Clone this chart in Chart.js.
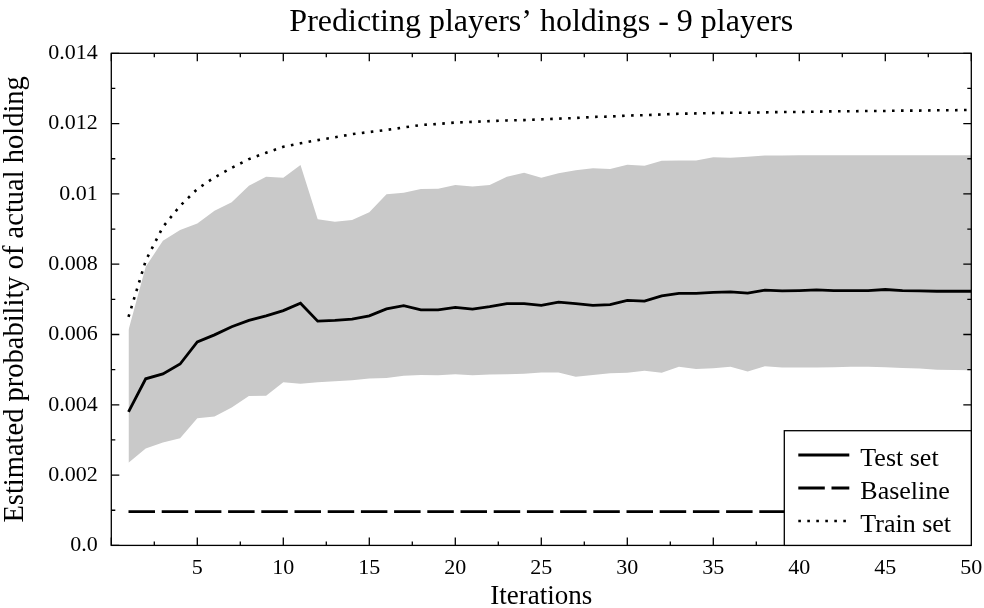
<!DOCTYPE html>
<html>
<head>
<meta charset="utf-8">
<script src="https://cdn.jsdelivr.net/npm/chart.js@4.4.1/dist/chart.umd.min.js"></script>
<style>
  html, body { margin: 0; padding: 0; background: #ffffff; }
  canvas { display: block; }
</style>
</head>
<body>
<canvas id="chart" width="984" height="608"></canvas>
<script>
// Iteration numbers (x categories)
const iterations = [
  1, 2, 3, 4, 5, 6, 7, 8, 9, 10,
  11, 12, 13, 14, 15, 16, 17, 18, 19, 20,
  21, 22, 23, 24, 25, 26, 27, 28, 29, 30,
  31, 32, 33, 34, 35, 36, 37, 38, 39, 40,
  41, 42, 43, 44, 45, 46, 47, 48, 49, 50
];

// Mean estimated probability of the actual holding on the test set
const testSet = [
  0.00380, 0.00474, 0.00488, 0.00516, 0.00579, 0.00599, 0.00622, 0.00640, 0.00653, 0.00668,
  0.00689, 0.00638, 0.00640, 0.00644, 0.00653, 0.00673, 0.00682, 0.00670, 0.00670, 0.00677,
  0.00672, 0.00679, 0.00688, 0.00688, 0.00683, 0.00692, 0.00688, 0.00683, 0.00685, 0.00697,
  0.00695, 0.00710, 0.00717, 0.00717, 0.00720, 0.00721, 0.00718, 0.00726, 0.00724, 0.00725,
  0.00727, 0.00725, 0.00725, 0.00725, 0.00728, 0.00725, 0.00724, 0.00723, 0.00723, 0.00723
];

// Upper edge of the test-set spread band
const upperBand = [
  0.00613, 0.00793, 0.00867, 0.00897, 0.00916, 0.00952, 0.00976, 0.01023, 0.01049, 0.01046,
  0.01082, 0.00928, 0.00921, 0.00926, 0.00948, 0.00999, 0.01003, 0.01014, 0.01015, 0.01025,
  0.01021, 0.01025, 0.01049, 0.01060, 0.01046, 0.01059, 0.01067, 0.01073, 0.01071, 0.01083,
  0.01080, 0.01094, 0.01095, 0.01095, 0.01104, 0.01103, 0.01106, 0.01109, 0.01109, 0.01110,
  0.01110, 0.01110, 0.01110, 0.01110, 0.01110, 0.01110, 0.01110, 0.01110, 0.01110, 0.01110
];

// Lower edge of the test-set spread band
const lowerBand = [
  0.00235, 0.00276, 0.00293, 0.00305, 0.00362, 0.00367, 0.00392, 0.00425, 0.00426, 0.00464,
  0.00460, 0.00464, 0.00467, 0.00470, 0.00475, 0.00476, 0.00483, 0.00485, 0.00484, 0.00487,
  0.00484, 0.00486, 0.00487, 0.00488, 0.00492, 0.00492, 0.00480, 0.00485, 0.00490, 0.00491,
  0.00497, 0.00491, 0.00508, 0.00502, 0.00504, 0.00508, 0.00495, 0.00510, 0.00506, 0.00506,
  0.00506, 0.00507, 0.00508, 0.00508, 0.00507, 0.00505, 0.00503, 0.00500, 0.00499, 0.00498
];

// Estimated probability on the training set
const trainSet = [
  0.00650, 0.00810, 0.00906, 0.00966, 0.01014, 0.01047, 0.01074, 0.01099, 0.01117, 0.01134,
  0.01144, 0.01153, 0.01161, 0.01170, 0.01176, 0.01182, 0.01189, 0.01196, 0.01199, 0.01203,
  0.01205, 0.01207, 0.01209, 0.01210, 0.01212, 0.01214, 0.01216, 0.01219, 0.01220, 0.01223,
  0.01224, 0.01226, 0.01228, 0.01229, 0.01230, 0.01231, 0.01231, 0.01232, 0.01233, 0.01233,
  0.01234, 0.01235, 0.01235, 0.01236, 0.01236, 0.01237, 0.01237, 0.01238, 0.01238, 0.01239
];

// Uniform-guess baseline probability
const baselineProbability = 0.00096;

// Axis tick labels
const xTickLabels = ['5', '10', '15', '20', '25', '30', '35', '40', '45', '50'];
const yTickLabels = ['0.0', '0.002', '0.004', '0.006', '0.008', '0.01', '0.012', '0.014'];

const SERIF = '"Liberation Serif", "Times New Roman", "DejaVu Serif", serif';

const toPoints = (values) => iterations.map((it, i) => ({ x: it, y: values[i] }));
const baselinePoints = iterations.map((it) => ({ x: it, y: baselineProbability }));

const DASH_BASELINE = [26.5, 6.7];
const DASH_TRAIN = [2.6, 6.4];

// Closed frame with inward major/minor tick marks on all four sides
const framePlugin = {
  id: 'frameTicks',
  afterDatasetsDraw(chart) {
    const { ctx, chartArea: a, scales } = chart;
    ctx.save();
    ctx.strokeStyle = '#000';
    ctx.lineWidth = 1.3;
    ctx.setLineDash([]);
    ctx.beginPath();
    for (let k = 0; k <= 20; k++) {
      const v = k * 2.5;
      const px = scales.x.getPixelForValue(v);
      const len = (k % 2 === 0) ? 8 : 4;
      ctx.moveTo(px, a.bottom); ctx.lineTo(px, a.bottom - len);
      ctx.moveTo(px, a.top); ctx.lineTo(px, a.top + len);
    }
    for (let k = 0; k <= 14; k++) {
      const v = k * 0.001;
      const py = scales.y.getPixelForValue(v);
      const len = (k % 2 === 0) ? 8 : 4;
      ctx.moveTo(a.left, py); ctx.lineTo(a.left + len, py);
      ctx.moveTo(a.right, py); ctx.lineTo(a.right - len, py);
    }
    ctx.stroke();
    ctx.strokeRect(a.left, a.top, a.right - a.left, a.bottom - a.top);
    ctx.restore();
  }
};

// Boxed legend in the lower-right corner of the plot area
const boxLegendPlugin = {
  id: 'boxLegend',
  afterDraw(chart) {
    const { ctx, chartArea: a } = chart;
    const items = chart.data.datasets.filter((d) => d.inLegend);
    const boxLeft = a.right - 187;
    const boxTop = a.bottom - 114.7;
    ctx.save();
    ctx.fillStyle = '#fff';
    ctx.fillRect(boxLeft, boxTop, a.right - boxLeft, a.bottom - boxTop);
    ctx.strokeStyle = '#000';
    ctx.lineWidth = 1.3;
    ctx.setLineDash([]);
    ctx.strokeRect(boxLeft, boxTop, a.right - boxLeft, a.bottom - boxTop);
    ctx.font = '26px ' + SERIF;
    ctx.fillStyle = '#000';
    ctx.textAlign = 'left';
    ctx.textBaseline = 'alphabetic';
    items.forEach((d, i) => {
      const lineY = boxTop + 24.3 + i * 33;
      ctx.beginPath();
      ctx.lineWidth = d.borderWidth;
      ctx.lineCap = 'butt';
      ctx.setLineDash(d.borderDash || []);
      ctx.moveTo(boxLeft + 14, lineY);
      ctx.lineTo(boxLeft + 65, lineY);
      ctx.stroke();
      ctx.setLineDash([]);
      ctx.fillText(d.label, boxLeft + 76, lineY + 11);
    });
    ctx.restore();
  }
};

new Chart(document.getElementById('chart'), {
  type: 'line',
  data: {
    datasets: [
      {
        label: 'Test set', inLegend: true,
        data: toPoints(testSet),
        borderColor: '#000', borderWidth: 2.8,
        pointRadius: 0, fill: false, tension: 0
      },
      {
        label: 'Baseline', inLegend: true,
        data: baselinePoints,
        borderColor: '#000', borderWidth: 2.8, borderDash: DASH_BASELINE,
        pointRadius: 0, fill: false
      },
      {
        label: 'Train set', inLegend: true,
        data: toPoints(trainSet),
        borderColor: '#000', borderWidth: 2.6, borderDash: DASH_TRAIN,
        pointRadius: 0, fill: false, tension: 0
      },
      {
        label: 'Upper band',
        data: toPoints(upperBand),
        borderColor: 'rgba(0,0,0,0)', borderWidth: 0,
        backgroundColor: '#c9c9c9',
        pointRadius: 0, fill: { target: 4 }
      },
      {
        label: 'Lower band',
        data: toPoints(lowerBand),
        borderColor: 'rgba(0,0,0,0)', borderWidth: 0,
        pointRadius: 0, fill: false
      }
    ]
  },
  options: {
    responsive: false,
    animation: false,
    events: [],
    devicePixelRatio: 1,
    layout: { padding: { left: 0, right: 12.7, top: 0, bottom: 0 } },
    plugins: {
      legend: { display: false },
      tooltip: { enabled: false },
      title: {
        display: true,
        fullSize: false,
        text: 'Predicting players\u2019 holdings - 9 players',
        color: '#000',
        font: { family: SERIF, size: 32, weight: 'normal', lineHeight: 1.15 },
        padding: { top: 4, bottom: 12.5 }
      }
    },
    scales: {
      x: {
        type: 'linear',
        min: 0, max: 50,
        grid: { display: false, drawTicks: false },
        border: { display: false },
        ticks: {
          stepSize: 5,
          padding: 10,
          color: '#000',
          font: { family: SERIF, size: 22, lineHeight: 1.15 },
          maxRotation: 0,
          autoSkip: false,
          callback: (value, index) => (index === 0 ? '' : xTickLabels[index - 1])
        },
        title: {
          display: true,
          text: 'Iterations',
          color: '#000',
          font: { family: SERIF, size: 27, lineHeight: 0.85 },
          padding: { top: 0, bottom: 0 }
        },
        afterFit(scale) {
          scale.height = 62.6;
          scale.paddingLeft = 0;
          scale.paddingRight = 0;
        }
      },
      y: {
        type: 'linear',
        min: 0, max: 0.014,
        grid: { display: false, drawTicks: false },
        border: { display: false },
        ticks: {
          stepSize: 0.002,
          padding: 13.5,
          color: '#000',
          font: { family: SERIF, size: 22 },
          autoSkip: false,
          callback: (value, index) => yTickLabels[index]
        },
        title: {
          display: true,
          text: 'Estimated probability of actual holding',
          color: '#000',
          font: { family: SERIF, size: 28.5, lineHeight: 1.1 },
          padding: { top: 0, bottom: 0 }
        },
        afterFit(scale) {
          scale.width = 111.3;
          scale.paddingTop = 0;
          scale.paddingBottom = 0;
        }
      }
    }
  },
  plugins: [framePlugin, boxLegendPlugin]
});
</script>
</body>
</html>
